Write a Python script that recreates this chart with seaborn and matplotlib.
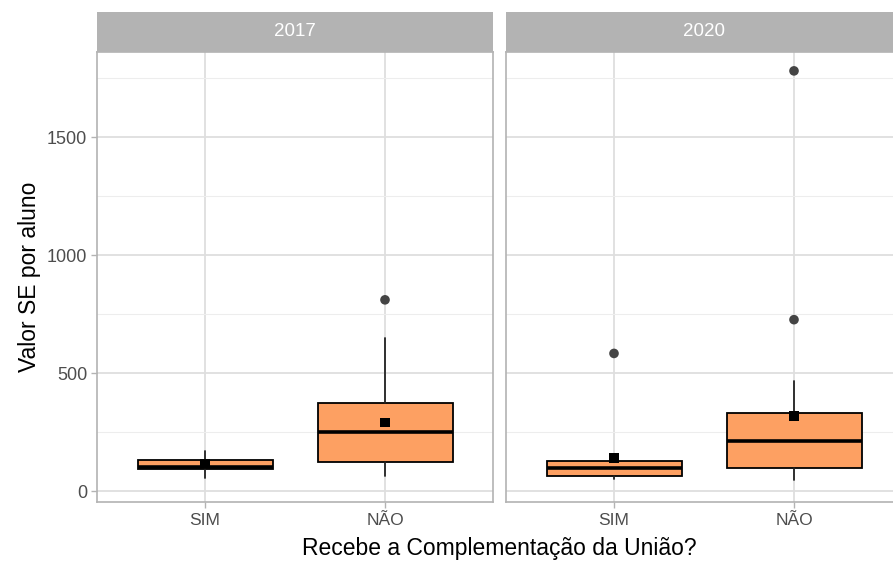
import matplotlib
matplotlib.use("Agg")
import matplotlib.pyplot as plt
import seaborn as sns
import pandas as pd

# ---- data -------------------------------------------------------------
years = ["2017", "2020"]
groups = ["SIM", "NÃO"]

# five-number summaries per year (order follows `groups`)
q1_2017 = [94, 126]
median_2017 = [104, 250]
q3_2017 = [135, 377]
whisker_low_2017 = [58, 65]
whisker_high_2017 = [171, 649]
mean_2017 = [118, 293]
outliers_2017 = [[], [812]]

q1_2020 = [65, 99]
median_2020 = [99, 214]
q3_2020 = [128, 334]
whisker_low_2020 = [51, 50]
whisker_high_2020 = [128, 467]
mean_2020 = [143, 319]
outliers_2020 = [[585], [728, 1782]]

y_ticks = [0, 500, 1000, 1500]

summary = {
    "2017": (q1_2017, median_2017, q3_2017, whisker_low_2017,
             whisker_high_2017, mean_2017, outliers_2017),
    "2020": (q1_2020, median_2020, q3_2020, whisker_low_2020,
             whisker_high_2020, mean_2020, outliers_2020),
}

# ---- style ------------------------------------------------------------
sns.set_theme(style="white")
plt.rcParams["font.family"] = ["Liberation Sans", "DejaVu Sans"]

FILL = "#FDA062"
BORDER = "#B3B3B3"
GRID_MAJOR = "#DEDEDE"
GRID_MINOR = "#EDEDED"
TICK_TEXT = "#4D4D4D"

W, H = 893, 562
fig = plt.figure(figsize=(W / 100, H / 100), dpi=100)


def px_box(x0, y0, x1, y1):
    """Figure-fraction rectangle from pixel edges (origin top-left)."""
    return [x0 / W, 1 - y1 / H, (x1 - x0) / W, (y1 - y0) / H]


panel_x = [(97, 493), (506, 902)]
PANEL_TOP, PANEL_BOTTOM = 52, 502
STRIP_TOP = 12

axes = []
for i, year in enumerate(years):
    x0, x1 = panel_x[i]
    ax = fig.add_axes(px_box(x0, PANEL_TOP, x1, PANEL_BOTTOM))
    axes.append(ax)
    q1, med, q3, wlo, whi, mean, outl = summary[year]

    stats = []
    for j, g in enumerate(groups):
        stats.append(dict(label=g, q1=q1[j], med=med[j], q3=q3[j],
                          whislo=wlo[j], whishi=whi[j], fliers=[]))
    positions = list(range(len(groups)))

    # grid
    ax.set_axisbelow(True)
    ax.set_yticks(y_ticks)
    ax.set_yticks([250, 750, 1250, 1750], minor=True)
    ax.set_xticks(positions)
    ax.grid(True, which="major", color=GRID_MAJOR, linewidth=1.3)
    ax.grid(True, which="minor", axis="y", color=GRID_MINOR, linewidth=0.8)

    ax.bxp(stats, positions=positions, widths=0.75, patch_artist=True,
           showfliers=False, showcaps=False,
           boxprops=dict(facecolor=FILL, edgecolor="black", linewidth=1.3),
           medianprops=dict(color="black", linewidth=2.6),
           whiskerprops=dict(color="#222222", linewidth=1.3),
           manage_ticks=False, zorder=2)

    # outliers
    out_df = pd.DataFrame(
        [(positions[j], v) for j in range(len(groups)) for v in outl[j]],
        columns=["pos", "value"])
    if len(out_df):
        sns.scatterplot(data=out_df, x="pos", y="value", ax=ax, s=48,
                        color="#444444", edgecolor="none", zorder=3)

    # group means
    mean_df = pd.DataFrame({"pos": positions, "value": mean})
    sns.scatterplot(data=mean_df, x="pos", y="value", ax=ax, marker="s",
                    s=48, color="black", edgecolor="none", zorder=4)

    ax.set_xlim(-0.6, 1.6)
    ax.set_ylim(-44.5, 1862)
    ax.set_xticklabels(groups)
    ax.set_xlabel("")
    ax.set_ylabel("")
    ax.tick_params(axis="x", colors=BORDER, labelcolor=TICK_TEXT,
                   labelsize=12.5, length=4, width=1, pad=4, bottom=True)
    if i == 0:
        ax.tick_params(axis="y", colors=BORDER, labelcolor=TICK_TEXT,
                       labelsize=13, length=4, width=1, pad=3, left=True)
        ax.tick_params(axis="y", which="minor", left=False)
    else:
        ax.tick_params(axis="y", which="both", left=False, labelleft=False)
    for sp in ax.spines.values():
        sp.set_color(BORDER)
        sp.set_linewidth(1.2)

    # facet strip
    sax = fig.add_axes(px_box(x0, STRIP_TOP, x1, PANEL_TOP))
    sax.set_facecolor(BORDER)
    sax.set_xticks([])
    sax.set_yticks([])
    for sp in sax.spines.values():
        sp.set_visible(False)
    sax.text(0.5, 0.5, year, ha="center", va="center", color="white",
             fontsize=13.5, transform=sax.transAxes)

fig.text(499 / W, 1 - 549 / H, "Recebe a Complementação da União?",
         ha="center", va="center", fontsize=16.5, color="black")
fig.text(30 / W, 1 - 277 / H, "Valor SE por aluno", ha="center",
         va="center", rotation=90, fontsize=16.5, color="black")

fig.savefig("out.png", dpi=100)
